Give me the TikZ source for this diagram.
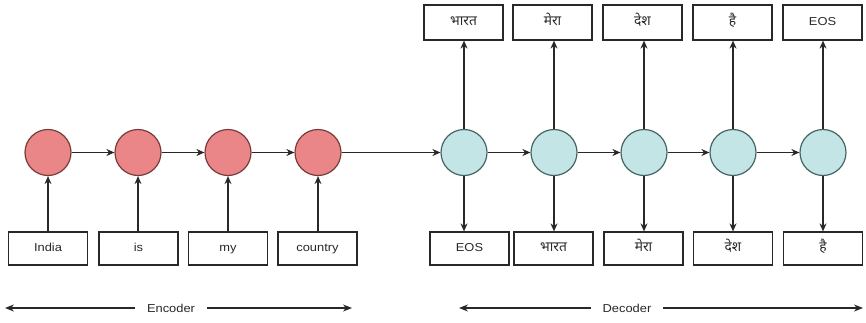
\documentclass[tikz,border=0pt]{standalone}
\usepackage{fontspec}
\setmainfont{Liberation Sans}[FakeStretch=1.12]
\newfontfamily\deva[Script=Devanagari,Scale=1.2]{Noto Sans}
\usetikzlibrary{arrows.meta}
\definecolor{encfill}{RGB}{234,134,136}
\definecolor{encline}{RGB}{120,60,60}
\definecolor{decfill}{RGB}{196,229,229}
\definecolor{decline}{RGB}{70,100,100}
\definecolor{ink}{RGB}{40,40,40}
\tikzset{
  every node/.style={font=\fontsize{11.5}{13}\selectfont, text=ink},
  cell/.style={circle, minimum size=46pt, inner sep=0pt, line width=1.2pt},
  enccell/.style={cell, draw=encline, fill=encfill},
  deccell/.style={cell, draw=decline, fill=decfill},
  tok/.style={draw=ink, line width=1.2pt, minimum width=79pt, minimum height=33pt,
    inner sep=0pt, text height=8.5pt, text depth=2.5pt},
  flow/.style={draw=ink, line width=1.3pt, -{Stealth[length=8pt,width=7pt]}},
  span/.style={draw=ink, line width=1.3pt, -{Stealth[length=9pt,width=7pt]}},
}
\begin{document}
\begin{tikzpicture}[x=1pt,y=-1pt]
\useasboundingbox (0,0) rectangle (866,322);

% encoder cells
\node[enccell] (e1) at (48,152.5) {};
\node[enccell] (e2) at (138,152.5) {};
\node[enccell] (e3) at (228,152.5) {};
\node[enccell] (e4) at (318,152.5) {};

% decoder cells
\node[deccell] (d1) at (464,152.5) {};
\node[deccell] (d2) at (554,152.5) {};
\node[deccell] (d3) at (644,152.5) {};
\node[deccell] (d4) at (733,152.5) {};
\node[deccell] (d5) at (823,152.5) {};

% encoder inputs
\node[tok] (x1) at (48,248.5) {India};
\node[tok] (x2) at (138.5,248.5) {is};
\node[tok] (x3) at (228,248.5) {my};
\node[tok] (x4) at (317.5,248.5) {country};

% decoder inputs
\node[tok] (i1) at (469.5,248.5) {EOS};
\node[tok] (i2) at (553.5,248.5) {\deva भारत};
\node[tok] (i3) at (643.5,248.5) {\deva मेरा};
\node[tok] (i4) at (733,248.5) {\deva देश};
\node[tok] (i5) at (823,248.5) {\deva है};

% decoder outputs
\node[tok, minimum height=35pt] (o1) at (463.5,22.5) {\deva भारत};
\node[tok, minimum height=35pt] (o2) at (552.5,22.5) {\deva मेरा};
\node[tok, minimum height=35pt] (o3) at (642.5,22.5) {\deva देश};
\node[tok, minimum height=35pt] (o4) at (732.5,22.5) {\deva है};
\node[tok, minimum height=35pt] (o5) at (822.5,22.5) {EOS};

% recurrent links
\draw[flow] (e1) -- (e2);
\draw[flow] (e2) -- (e3);
\draw[flow] (e3) -- (e4);
\draw[flow] (e4) -- (d1);
\draw[flow] (d1) -- (d2);
\draw[flow] (d2) -- (d3);
\draw[flow] (d3) -- (d4);
\draw[flow] (d4) -- (d5);

% inputs into encoder cells
\foreach \k in {1,...,4} {
  \draw[flow] (e\k.south |- x\k.north) -- (e\k.south);
}

% decoder cells: inputs below, outputs above
\foreach \k in {1,...,5} {
  \draw[flow] (d\k.south) -- (d\k.south |- i\k.north);
  \draw[flow] (d\k.north) -- (d\k.north |- o\k.south);
}

% span labels
\node (enc) at (171,308) {Encoder};
\coordinate (encL) at (5,308);
\coordinate (encR) at (352,308);
\draw[span] ([xshift=-8pt]enc.west) -- (encL);
\draw[span] ([xshift=8pt]enc.east) -- (encR);

\node (dec) at (627,308) {Decoder};
\coordinate (decL) at (459,308);
\coordinate (decR) at (863,308);
\draw[span] ([xshift=-8pt]dec.west) -- (decL);
\draw[span] ([xshift=8pt]dec.east) -- (decR);
\end{tikzpicture}
\end{document}
